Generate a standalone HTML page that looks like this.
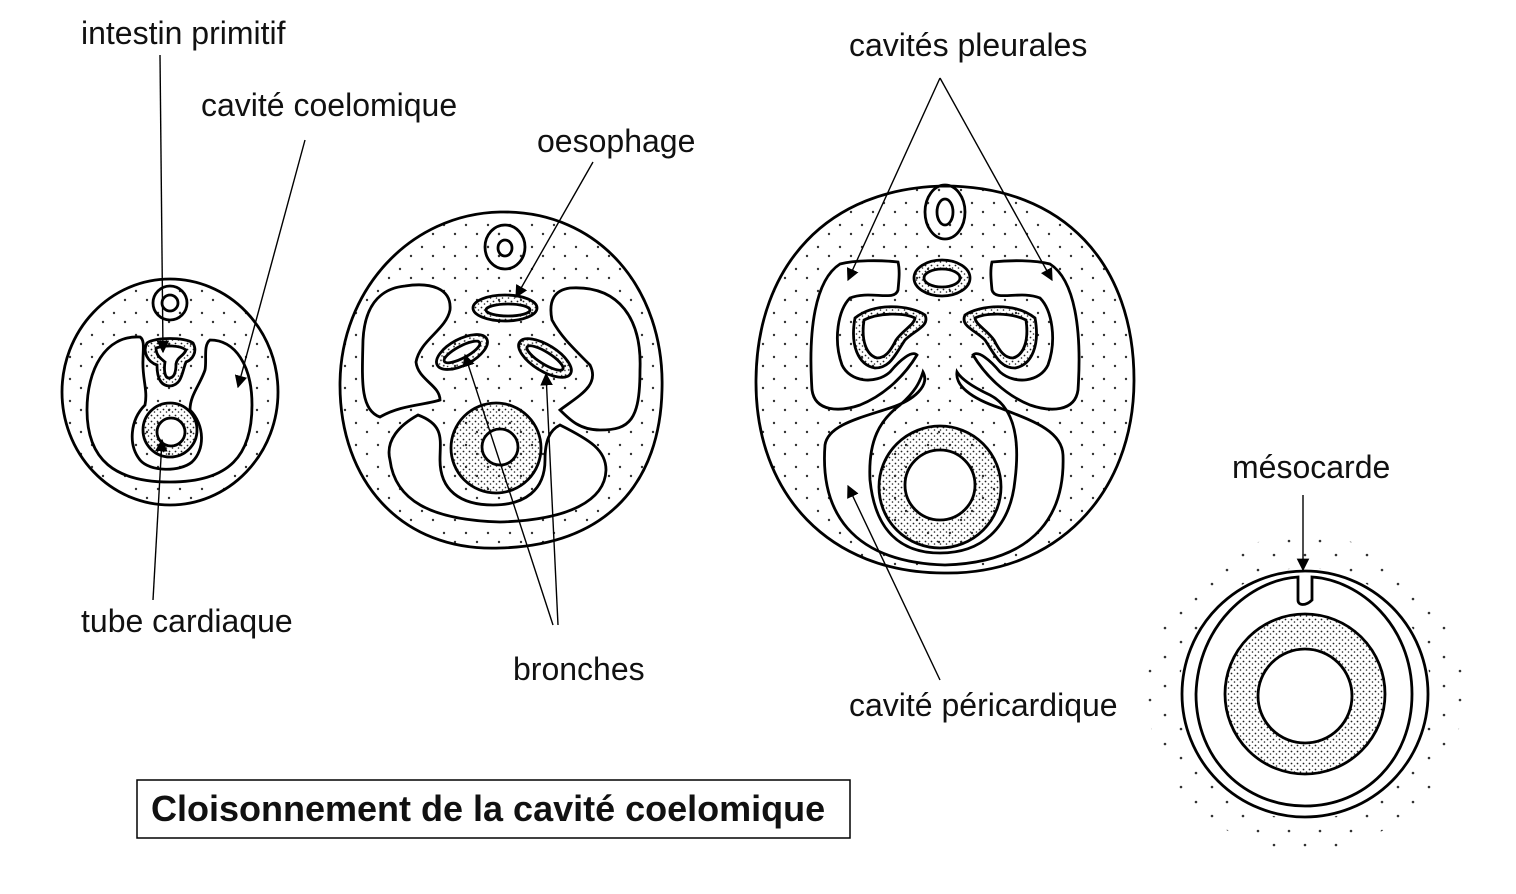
<!DOCTYPE html>
<html><head><meta charset="utf-8"><style>
html,body{margin:0;padding:0;background:#fff}
svg{display:block}
text{font-family:"Liberation Sans",sans-serif;font-size:32px;fill:#111}
</style></head><body>
<svg width="1516" height="894" viewBox="0 0 1516 894" xmlns="http://www.w3.org/2000/svg">
<defs>
<pattern id="sp" width="22" height="22" patternUnits="userSpaceOnUse">
<circle cx="4" cy="5" r="1.2" fill="#333"/><circle cx="15" cy="14" r="1.2" fill="#333"/>
</pattern>
<pattern id="dn" width="6" height="6" patternUnits="userSpaceOnUse">
<circle cx="1.5" cy="1.5" r="0.9" fill="#222"/><circle cx="4.5" cy="4" r="0.8" fill="#222"/>
</pattern>
<pattern id="halo" width="31" height="29" patternUnits="userSpaceOnUse">
<circle cx="3" cy="4" r="1.3" fill="#333"/><circle cx="18" cy="19" r="1.3" fill="#333"/>
</pattern>
<marker id="ah" viewBox="0 0 10 10" refX="9" refY="5" markerWidth="9" markerHeight="9" orient="auto"><path d="M0,0 L10,5 L0,10 z" fill="#000"/></marker>
</defs>
<path d="M1305,535 a158,158 0 1,0 0.1,0 Z M1305,568 a126,126 0 1,1 -0.1,0 Z" fill="url(#halo)" fill-rule="evenodd"/>
<g stroke="#000" stroke-width="2.8" fill="none">
<!-- Fig 1 -->
<ellipse cx="170" cy="392" rx="108" ry="113" fill="url(#sp)"/>
<path d="M140,337 C105,335 87,370 87,410 C87,460 115,482 170,482 C230,482 252,455 252,405 C252,365 235,340 210,340 C203,345 207,360 205,370 C200,385 190,395 190,410 C205,425 205,450 192,462 C180,472 150,472 140,460 C128,445 130,420 145,405 C148,390 142,378 143,360 C143,350 145,340 140,337 Z" fill="#fff"/>
<circle cx="170" cy="303" r="17" fill="url(#sp)"/><circle cx="170" cy="303" r="8" fill="#fff"/>
<path d="M147,343 C155,337 185,337 193,343 C198,352 192,360 186,362 C182,372 182,385 170,386 C158,386 157,372 157,365 C148,362 142,352 147,343 Z" fill="url(#dn)"/>
<path d="M156,348 C165,345 180,345 186,350 C184,356 177,357 176,364 C176,372 174,378 169,378 C164,378 164,368 165,362 C160,358 156,355 156,348 Z" fill="#fff"/>
<circle cx="170" cy="430" r="27" fill="url(#dn)"/><circle cx="171" cy="432" r="14" fill="#fff"/>
<!-- Fig 2 -->
<path d="M500,212 C600,210 665,290 662,390 C660,480 610,545 500,548 C400,552 340,480 340,385 C340,290 410,214 500,212 Z" fill="url(#sp)"/>
<path d="M405,286 C430,282 452,288 450,310 C446,330 420,340 416,362 C418,380 440,385 440,400 C425,405 400,405 380,417 C360,410 362,380 363,340 C365,300 385,288 405,286 Z" fill="#fff"/>
<path d="M570,288 C620,285 642,320 640,370 C640,420 630,430 600,430 C580,430 570,420 560,410 C580,395 600,385 590,365 C570,345 560,335 552,320 C548,300 555,290 570,288 Z" fill="#fff"/>
<path d="M418,415 C400,425 385,440 390,460 C395,500 430,520 500,522 C570,520 605,500 606,470 C606,450 590,440 560,425 C550,430 545,440 545,460 C545,490 525,505 493,505 C460,505 440,490 440,460 C440,440 445,425 418,415 Z" fill="#fff"/>
<circle cx="496" cy="448" r="45" fill="url(#dn)"/><circle cx="500" cy="447" r="18" fill="#fff"/>
<ellipse cx="505" cy="247" rx="20" ry="22" fill="url(#sp)"/><ellipse cx="505" cy="248" rx="7" ry="8" fill="#fff"/>
<ellipse cx="505" cy="308" rx="32" ry="13" fill="url(#dn)"/><ellipse cx="508" cy="310" rx="22" ry="6" fill="#fff"/>
<ellipse cx="462" cy="352" rx="28" ry="13" transform="rotate(-28 462 352)" fill="url(#dn)"/><ellipse cx="462" cy="352" rx="20" ry="6" transform="rotate(-28 462 352)" fill="#fff"/>
<ellipse cx="545" cy="358" rx="30" ry="13" transform="rotate(32 545 358)" fill="url(#dn)"/><ellipse cx="545" cy="358" rx="21" ry="6" transform="rotate(32 545 358)" fill="#fff"/>
<!-- Fig 3 -->
<path d="M944,186 C1065,186 1134,265 1134,380 C1134,495 1055,575 944,573 C830,573 755,495 756,380 C757,265 828,188 944,186 Z" fill="url(#sp)"/>
<g>
<path d="M898,262 C880,260 855,260 840,264 C815,280 808,330 812,390 C815,412 840,412 860,405 C885,395 905,375 917,355 C912,350 900,360 890,372 C875,385 850,382 842,365 C833,340 838,310 850,298 C870,290 895,302 898,290 C899,280 900,270 898,262 Z" fill="#fff"/>
<path d="M855,318 C875,302 910,305 925,315 C930,326 915,330 905,340 C895,355 890,368 875,368 C858,365 850,345 855,318 Z" fill="url(#dn)"/>
<path d="M864,320 C880,312 905,313 915,318 C914,325 903,330 896,340 C890,352 885,358 877,358 C866,355 861,340 864,320 Z" fill="#fff"/>
</g>
<g transform="translate(1890,0) scale(-1,1)">
<path d="M898,262 C880,260 855,260 840,264 C815,280 808,330 812,390 C815,412 840,412 860,405 C885,395 905,375 917,355 C912,350 900,360 890,372 C875,385 850,382 842,365 C833,340 838,310 850,298 C870,290 895,302 898,290 C899,280 900,270 898,262 Z" fill="#fff"/>
<path d="M855,318 C875,302 910,305 925,315 C930,326 915,330 905,340 C895,355 890,368 875,368 C858,365 850,345 855,318 Z" fill="url(#dn)"/>
<path d="M864,320 C880,312 905,313 915,318 C914,325 903,330 896,340 C890,352 885,358 877,358 C866,355 861,340 864,320 Z" fill="#fff"/>
</g>
<path d="M923,372 C930,385 915,400 890,408 C860,418 828,425 825,445 C820,510 850,562 945,565 C1040,562 1065,510 1063,455 C1062,430 1030,420 1000,408 C970,398 955,385 957,372 C962,380 975,388 990,395 C1015,408 1020,440 1015,480 C1010,530 980,553 940,553 C900,553 875,530 870,480 C868,440 880,420 900,405 C915,392 920,382 923,372 Z" fill="#fff"/>
<circle cx="940" cy="487" r="61" fill="url(#dn)"/><circle cx="940" cy="485" r="35" fill="#fff"/>
<ellipse cx="945" cy="212" rx="20" ry="27" fill="url(#sp)"/><ellipse cx="945" cy="212" rx="8" ry="13" fill="#fff"/>
<ellipse cx="942" cy="278" rx="28" ry="18" fill="url(#dn)"/><ellipse cx="942" cy="278" rx="18" ry="9" fill="#fff"/>
<!-- Fig 4 -->
<circle cx="1305" cy="694" r="123" fill="#fff"/>
<path d="M1298,577 C1250,580 1198,625 1196,694 C1196,760 1245,806 1305,806 C1365,806 1412,760 1412,694 C1412,625 1360,580 1312,577 L1312,600 C1306,606 1298,606 1298,600 Z" fill="#fff"/>
<circle cx="1305" cy="694" r="80" fill="url(#dn)"/><circle cx="1305" cy="696" r="47" fill="#fff"/>
<!-- arrows -->
<g stroke-width="1.4" marker-end="url(#ah)">
<line x1="160" y1="55" x2="163" y2="352"/>
<line x1="305" y1="140" x2="238" y2="387"/>
<line x1="153" y1="600" x2="162" y2="440"/>
<line x1="593" y1="162" x2="516" y2="297"/>
<line x1="553" y1="625" x2="465" y2="355"/>
<line x1="558" y1="625" x2="546" y2="374"/>
<line x1="940" y1="78" x2="848" y2="280"/>
<line x1="940" y1="78" x2="1052" y2="280"/>
<line x1="940" y1="680" x2="848" y2="486"/>
<line x1="1303" y1="495" x2="1303" y2="570"/>
</g>
<rect x="137" y="780" width="713" height="58" stroke-width="1.5"/>
</g>
<text x="81" y="44">intestin primitif</text>
<text x="201" y="116">cavité coelomique</text>
<text x="81" y="632">tube cardiaque</text>
<text x="537" y="152">oesophage</text>
<text x="513" y="680">bronches</text>
<text x="849" y="56">cavités pleurales</text>
<text x="849" y="716">cavité péricardique</text>
<text x="1232" y="478">mésocarde</text>
<text x="151" y="821" style="font-weight:bold;font-size:36px">Cloisonnement de la cavité coelomique</text>
</svg>
</body></html>
